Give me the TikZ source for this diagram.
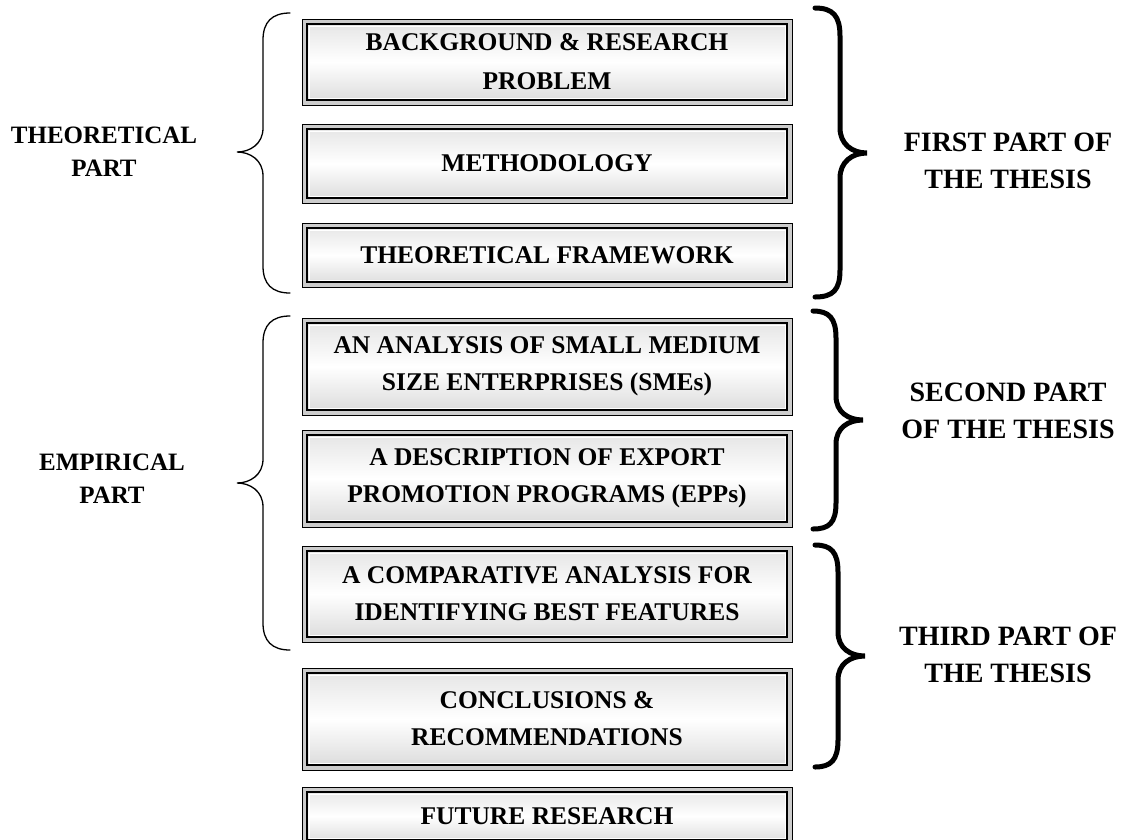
\documentclass[tikz,border=0pt]{standalone}
\usepackage{fontspec}
\setmainfont{Liberation Serif}[BoldFont={Liberation Serif Bold}]
\begin{document}
\begin{tikzpicture}[x=1pt,y=-1pt,
  stagebox/.style={rectangle, draw=black, line width=1pt, fill=gray!40,
    minimum width=490pt, inner sep=0pt, align=center,
    font=\fontsize{25.5}{37}\selectfont\bfseries,
    path picture={
      \shade[top color=gray!22, bottom color=gray!30, middle color=white]
        ([shift={(5pt,-5pt)}]path picture bounding box.north west) rectangle
        ([shift={(-5pt,5pt)}]path picture bounding box.south east);
      \draw[line width=2.4pt]
        ([shift={(5pt,-5pt)}]path picture bounding box.north west) rectangle
        ([shift={(-5pt,5pt)}]path picture bounding box.south east);
      \draw[white, line width=0.7pt]
        ([shift={(6.9pt,-6.9pt)}]path picture bounding box.north west) rectangle
        ([shift={(-6.9pt,6.9pt)}]path picture bounding box.south east);
    }},
  leftlabel/.style={align=center, font=\fontsize{25}{33}\selectfont\bfseries},
  rightlabel/.style={align=center, font=\fontsize{28}{37}\selectfont\bfseries},
  thinbrace/.style={line width=1.3pt, line cap=round},
  thickbrace/.style={line width=5pt, line cap=round},
]
\useasboundingbox (0,0) rectangle (1135,839);

% chapter boxes
\node[stagebox, minimum height=86pt] (b1) at (547,62) {BACKGROUND \& RESEARCH\\[2pt]PROBLEM};
\node[stagebox, minimum height=79pt] (b2) at (547,163.5) {METHODOLOGY};
\node[stagebox, minimum height=64pt] (b3) at (547,255) {THEORETICAL FRAMEWORK};
\node[stagebox, minimum height=97pt] (b4) at (547,366.5) {AN ANALYSIS OF SMALL MEDIUM\\SIZE ENTERPRISES (SMEs)};
\node[stagebox, minimum height=97pt] (b5) at (547,478.5) {A DESCRIPTION OF EXPORT\\PROMOTION PROGRAMS (EPPs)};
\node[stagebox, minimum height=96pt] (b6) at (547,594) {A COMPARATIVE ANALYSIS FOR\\IDENTIFYING BEST FEATURES};
\node[stagebox, minimum height=102pt] (b7) at (547,719) {CONCLUSIONS \&\\RECOMMENDATIONS};
\node[stagebox, minimum height=58pt] (b8) at (547,816) {FUTURE RESEARCH};

% side labels
\node[leftlabel] (theo) at (104,152) {THEORETICAL\\PART};
\node[leftlabel] (emp) at (112,479) {EMPIRICAL\\PART};
\node[rightlabel] (first) at (1008,161) {FIRST PART OF\\THE THESIS};
\node[rightlabel] (second) at (1008,411) {SECOND PART\\OF THE THESIS};
\node[rightlabel] (third) at (1008,655) {THIRD PART OF\\THE THESIS};

% left braces (thin)
\draw[thinbrace] (290,13) .. controls (272,13) and (263,22) .. (263,40)
  -- (263,128) .. controls (263,144) and (250,152) .. (237,152)
  .. controls (250,152) and (263,160) .. (263,176)
  -- (263,266) .. controls (263,284) and (272,293) .. (290,293);
\draw[thinbrace] (290,316) .. controls (272,316) and (263,325) .. (263,343)
  -- (263,459) .. controls (263,475) and (250,483) .. (237,483)
  .. controls (250,483) and (263,491) .. (263,507)
  -- (263,623) .. controls (263,641) and (272,650) .. (290,650);

% right braces (thick)
\draw[thickbrace] (815,8) .. controls (833,8) and (840,16) .. (840,36)
  -- (840,128) .. controls (840,144) and (852,153) .. (867,153)
  .. controls (852,153) and (840,162) .. (840,178)
  -- (840,270) .. controls (840,290) and (833,297) .. (815,297);
\draw[thickbrace] (813,311) .. controls (829,311) and (836,318) .. (836,338)
  -- (836,396) .. controls (836,412) and (848,420) .. (863,420)
  .. controls (848,420) and (836,428) .. (836,444)
  -- (836,503) .. controls (836,523) and (829,529) .. (813,529);
\draw[thickbrace] (815,545) .. controls (831,545) and (838,552) .. (838,572)
  -- (838,632) .. controls (838,648) and (850,656) .. (865,656)
  .. controls (850,656) and (838,664) .. (838,680)
  -- (838,740) .. controls (838,760) and (831,767) .. (815,767);
\end{tikzpicture}
\end{document}
